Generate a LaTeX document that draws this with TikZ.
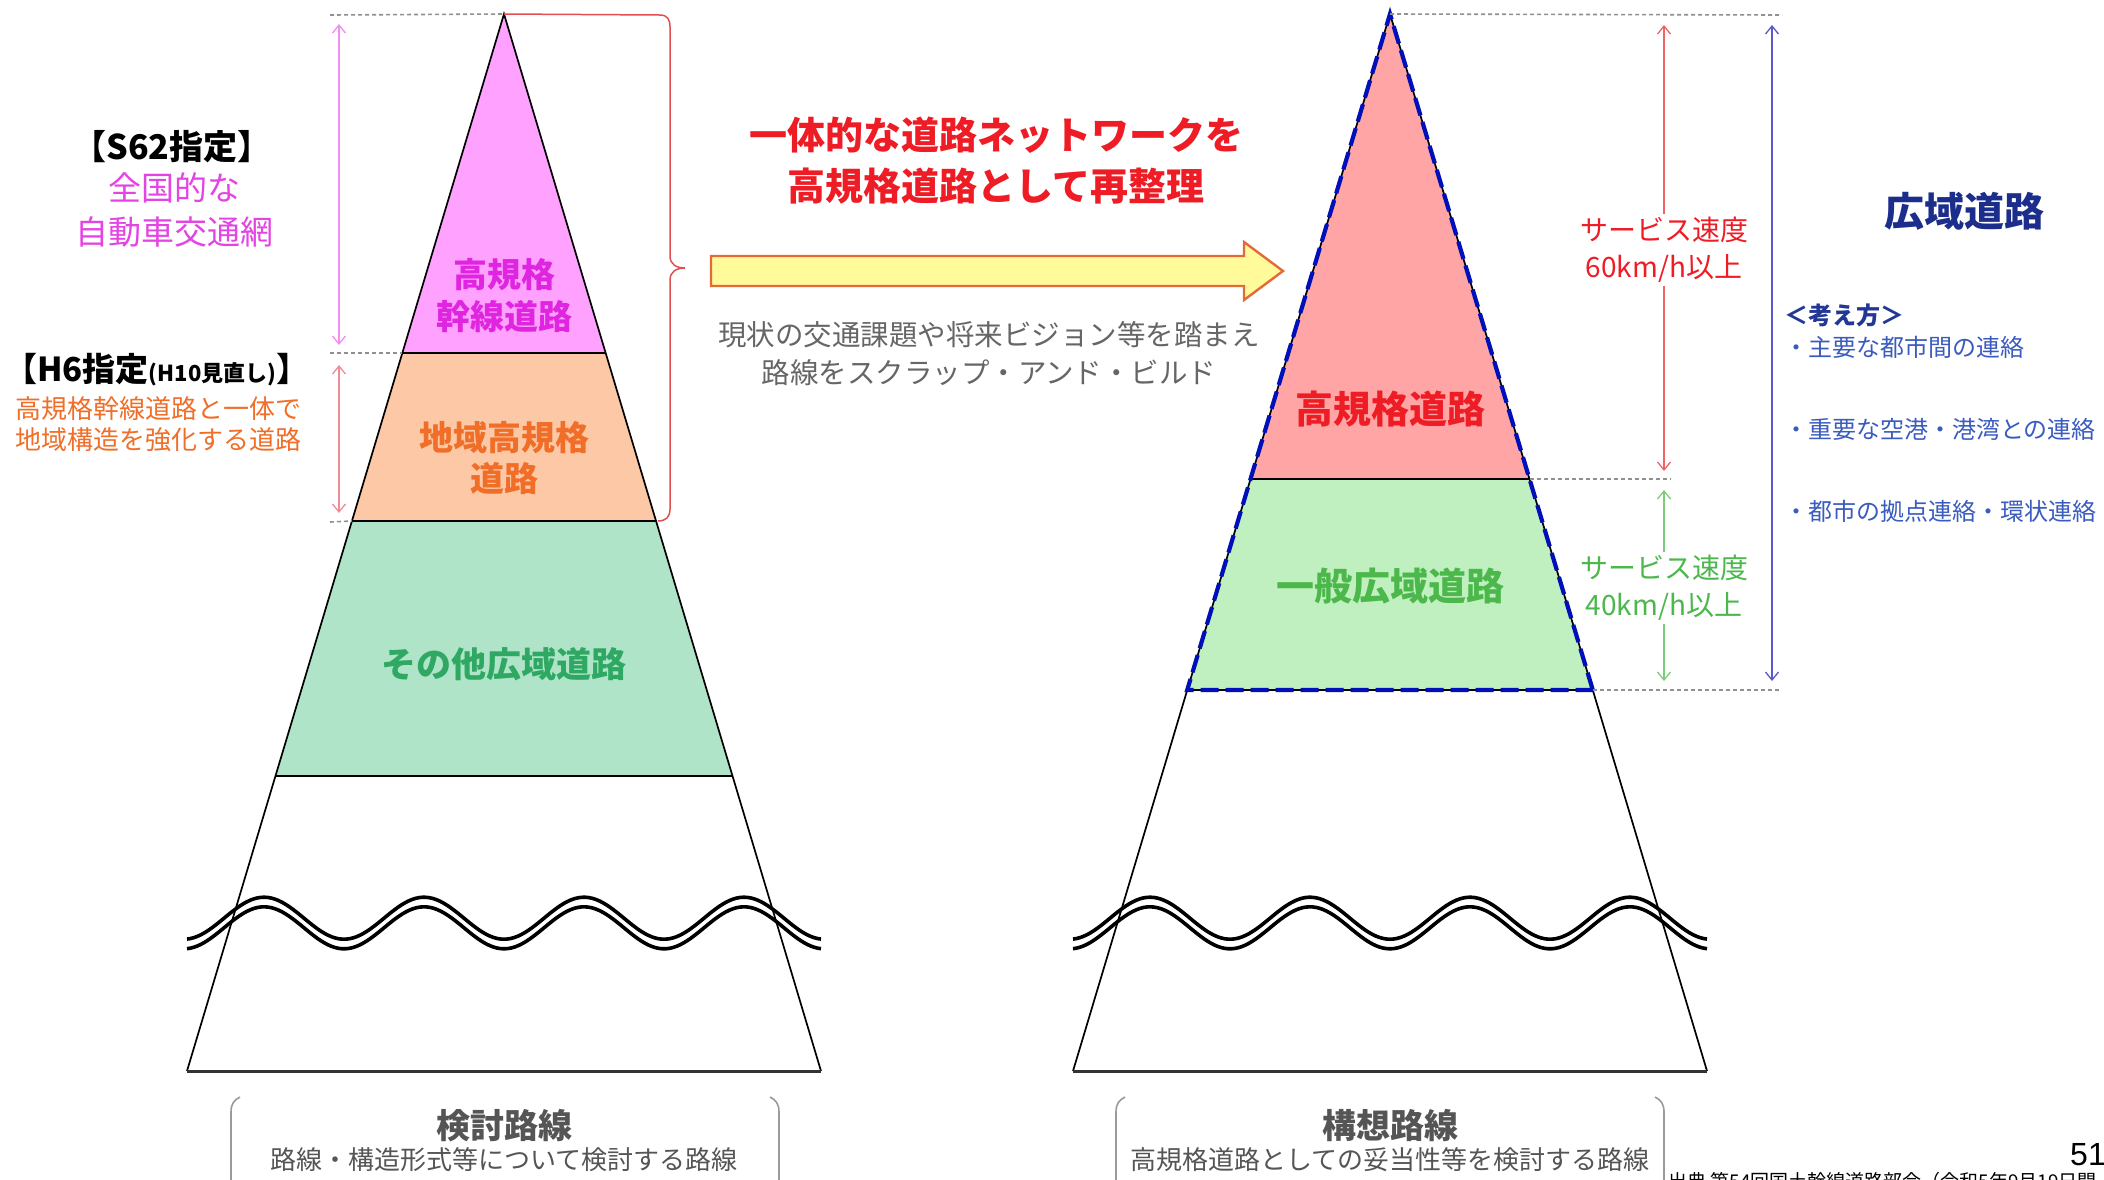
\documentclass[tikz,border=0pt]{standalone}
\usepackage{fontspec}
\setmainfont{Noto Sans CJK JP}
\newfontfamily\latinsans{Liberation Sans}
\usetikzlibrary{arrows.meta}
\newcommand{\myfs}[2]{\fontsize{#1}{#2}\selectfont}
\definecolor{pinkfill}{HTML}{FFA2FF}
\definecolor{orangefill}{HTML}{FCC8A5}
\definecolor{greenfillL}{HTML}{B0E4C8}
\definecolor{redfill}{HTML}{FFA5A5}
\definecolor{greenfillR}{HTML}{C0F0C0}
\definecolor{magtxt}{HTML}{E025E0}
\definecolor{magsoft}{HTML}{E444E4}
\definecolor{orangetxt}{HTML}{F06E28}
\definecolor{greentxtL}{HTML}{2EA862}
\definecolor{redtxt}{HTML}{EE1C25}
\definecolor{greentxtR}{HTML}{4CB84C}
\definecolor{navytxt}{HTML}{1C2E8C}
\definecolor{bluetxt}{HTML}{3A5BBF}
\definecolor{bracered}{HTML}{E05050}
\definecolor{magarrow}{HTML}{F090F0}
\definecolor{salmonarrow}{HTML}{F08C96}
\definecolor{redarrow}{HTML}{F06464}
\definecolor{greenarrow}{HTML}{7CCC7C}
\definecolor{bluearrow}{HTML}{5A5ACD}
\definecolor{guidegray}{HTML}{909090}
\definecolor{graytxt}{HTML}{666666}
\definecolor{darkgraytxt}{HTML}{555555}
\definecolor{arrowfill}{HTML}{FFFA9A}
\definecolor{arrowline}{HTML}{E46A3A}
\definecolor{dashblue}{HTML}{0010B8}
\definecolor{bracketgray}{HTML}{9A9A9A}
\begin{document}
\begin{tikzpicture}[x=1pt,y=-1pt,
  txt/.style={inner sep=0pt, align=center},
  dimarrow/.style={line width=1.3pt, {Straight Barb[length=8pt,width=13pt]}-{Straight Barb[length=8pt,width=13pt]}},
  guide/.style={draw=guidegray, line width=1.6pt, dash pattern=on 4pt off 3pt},
  edgeline/.style={line width=1.7pt, draw=black},
  sepline/.style={line width=2.2pt, draw=black},
  baseline/.style={line width=3pt, draw=black!80},
  waveline/.style={line width=3.6pt, draw=black},
  bluedash/.style={line width=4.2pt, draw=dashblue, dash pattern=on 18pt off 7pt},
  bracket/.style={line width=1.6pt, draw=bracketgray}
]
\useasboundingbox (0,0) rectangle (2104,1179);
\clip (0,0) rectangle (2104,1179);
\fill[white] (0,0) rectangle (2104,1179);

% ---------- left triangle coordinates
\coordinate (LA) at (504,14);
\coordinate (L1l) at (402.3,353); \coordinate (L1r) at (605.7,353);
\coordinate (L2l) at (352,521);   \coordinate (L2r) at (656,521);
\coordinate (L3l) at (275.4,776); \coordinate (L3r) at (732.6,776);
\coordinate (LBl) at (187,1071);  \coordinate (LBr) at (821,1071);
% ---------- right triangle coordinates
\coordinate (RA) at (1390,14);
\coordinate (R1l) at (1250.5,479); \coordinate (R1r) at (1529.5,479);
\coordinate (R2l) at (1187.2,690); \coordinate (R2r) at (1592.8,690);
\coordinate (RBl) at (1073,1071);  \coordinate (RBr) at (1707,1071);

% fills
\fill[pinkfill] (LA) -- (L1r) -- (L1l) -- cycle;
\fill[orangefill] (L1l) -- (L1r) -- (L2r) -- (L2l) -- cycle;
\fill[greenfillL] (L2l) -- (L2r) -- (L3r) -- (L3l) -- cycle;
\fill[redfill] (RA) -- (R1r) -- (R1l) -- cycle;
\fill[greenfillR] (R1l) -- (R1r) -- (R2r) -- (R2l) -- cycle;

% waves
\foreach \cx in {504,1390}{
  \foreach \dy in {-4.8,4.8}{
    \draw[waveline, domain=-317:317, samples=181, smooth, variable=\t]
      plot ({\cx+\t},{923+\dy+21*cos(\t*2.25)});
  }
}

% outlines left
\draw[edgeline] (LBl) -- (LA) -- (LBr);
\draw[sepline] (L1l) -- (L1r);
\draw[sepline] (L2l) -- (L2r);
\draw[sepline] (L3l) -- (L3r);
\draw[baseline] (LBl) -- (LBr);
% outlines right
\draw[edgeline] (RBl) -- (RA) -- (RBr);
\draw[sepline] (R1l) -- (R1r);
\draw[edgeline] (R2l) -- (R2r);
\draw[baseline] (RBl) -- (RBr);
\draw[bluedash] (R2r) -- (RA) -- (R2l) -- cycle;

% guide dotted lines
\coordinate (gL0) at (330,15);  \draw[guide] (gL0) -- (LA);
\coordinate (gL1) at (330,353); \draw[guide] (gL1) -- (L1l);
\coordinate (gL2) at (330,522); \draw[guide] (gL2) -- (L2l);
\coordinate (gR0) at (1782,15); \draw[guide] (RA) -- (gR0);
\coordinate (gR1) at (1670,479); \draw[guide] (R1r) -- (gR1);
\coordinate (gR2) at (1779,690); \draw[guide] (R2r) -- (gR2);

% brace (red)
\coordinate (brTop) at (660,15);
\coordinate (brBot) at (658,521);
\draw[bracered, line width=1.5pt] (LA) -- (brTop)
  .. controls (667,15) and (670,19) .. (670,27) -- (670,256)
  .. controls (670,264) and (676,268) .. (685,268)
  .. controls (676,268) and (670,272) .. (670,280) -- (670,509)
  .. controls (670,517) and (666,521) .. (brBot);

% dimension arrows
\coordinate (a1t) at (339,24);  \coordinate (a1b) at (339,345);
\coordinate (a2t) at (339,365); \coordinate (a2b) at (339,513);
\coordinate (a3t) at (1664,25); \coordinate (a3b) at (1664,471);
\coordinate (a4t) at (1664,490); \coordinate (a4b) at (1664,681);
\coordinate (a5t) at (1772,25); \coordinate (a5b) at (1772,681);
\draw[dimarrow, magarrow] (a1t) -- (a1b);
\draw[dimarrow, salmonarrow] (a2t) -- (a2b);
\draw[dimarrow, redarrow] (a3t) -- (a3b);
\draw[dimarrow, greenarrow] (a4t) -- (a4b);
\draw[dimarrow, bluearrow] (a5t) -- (a5b);

% big yellow arrow
\coordinate (yaTail) at (711,271);
\coordinate (yaTip) at (1283,271);
\draw[arrowline, fill=arrowfill, line width=2.4pt, line join=miter]
  (711,256) -- (1244,256) -- (1244,242) -- (yaTip) -- (1244,300) -- (1244,286) -- (711,286) -- cycle;

% ---------- texts: left triangle
\node[txt, text=magtxt, font={\myfs{34}{42}\bfseries}] (tKK) at (504,296) {高規格\\幹線道路};
\node[txt, text=orangetxt, font={\myfs{34}{41}\bfseries}] (tCK) at (504,458) {地域高規格\\道路};
\node[txt, text=greentxtL, font={\myfs{35}{42}\bfseries}] (tSO) at (504,664) {その他広域道路};

% left annotations
\node[txt, font={\myfs{34}{40}\bfseries}] (tS62) at (172,147) {【S62指定】};
\node[txt, text=magsoft, font={\myfs{33}{44}}] (tZK) at (174,210) {全国的な\\自動車交通網};
\node[txt, anchor=west, font={\myfs{33}{38}\bfseries}] (tH6) at (4,370) {【H6指定{\myfs{22}{26}(H10見直し)}】};
\node[txt, text=orangetxt, font={\myfs{26}{31}}] (tH6d) at (158,424) {高規格幹線道路と一体で\\地域構造を強化する道路};

% middle
\node[txt, text=redtxt, font={\myfs{38}{51}\bfseries}] (tTitle) at (996,161) {一体的な道路ネットワークを\\高規格道路として再整理};
\node[txt, text=graytxt, font={\myfs{28.5}{38}}] (tGray) at (989,354) {現状の交通課題や将来ビジョン等を踏まえ\\路線をスクラップ・アンド・ビルド};

% right triangle
\node[txt, text=redtxt, font={\myfs{38}{44}\bfseries}] (tKKD) at (1390,409) {高規格道路};
\node[txt, text=greentxtR, font={\myfs{38}{44}\bfseries}] (tIK) at (1390,586) {一般広域道路};

% right annotations
\node[txt, fill=white, inner sep=3pt, text=redtxt, font={\myfs{28}{37}}] (tSp60) at (1664,250) {サービス速度\\60km/h以上};
\node[txt, fill=white, inner sep=3pt, text=greentxtR, font={\myfs{28}{37}}] (tSp40) at (1664,588) {サービス速度\\40km/h以上};
\node[txt, text=navytxt, font={\myfs{40}{46}\bfseries}] (tKoiki) at (1964,211) {広域道路};
\node[txt, anchor=west, text=navytxt!80!bluetxt, font={\myfs{24}{28}\bfseries}] (tKang) at (1784,315) {＜考え方＞};
\node[txt, anchor=west, text=bluetxt, font={\myfs{24}{28}}] (tK1) at (1784,347) {・主要な都市間の連絡};
\node[txt, anchor=west, text=bluetxt, font={\myfs{24}{28}}] (tK2) at (1784,429) {・重要な空港・港湾との連絡};
\node[txt, anchor=west, text=bluetxt, font={\myfs{24}{28}}] (tK3) at (1784,511) {・都市の拠点連絡・環状連絡};

% bottom brackets
\draw[bracket] (240,1097) .. controls (234,1100) and (231,1104) .. (231,1112) -- (231,1190);
\draw[bracket] (770,1097) .. controls (776,1100) and (779,1104) .. (779,1112) -- (779,1190);
\draw[bracket] (1125,1097) .. controls (1119,1100) and (1116,1104) .. (1116,1112) -- (1116,1190);
\draw[bracket] (1655,1097) .. controls (1661,1100) and (1664,1104) .. (1664,1112) -- (1664,1190);

\node[txt, text=darkgraytxt, font={\myfs{34}{40}\bfseries}] (tKento) at (504,1126) {検討路線};
\node[txt, text=darkgraytxt, font={\myfs{26}{32}}] (tKentoD) at (504,1160) {路線・構造形式等について検討する路線};
\node[txt, text=darkgraytxt, font={\myfs{34}{40}\bfseries}] (tKoso) at (1390,1126) {構想路線};
\node[txt, text=darkgraytxt, font={\myfs{26}{32}}] (tKosoD) at (1390,1160) {高規格道路としての妥当性等を検討する路線};

% page number and source
\node[txt, anchor=base west, font={\latinsans\myfs{32}{36}}] (tPage) at (2070,1165) {51};
\node[txt, anchor=north west, font={\myfs{19}{24}}] (tSrc) at (1668,1172) {出典 第54回国土幹線道路部会（令和5年9月19日開};
\end{tikzpicture}
\end{document}
